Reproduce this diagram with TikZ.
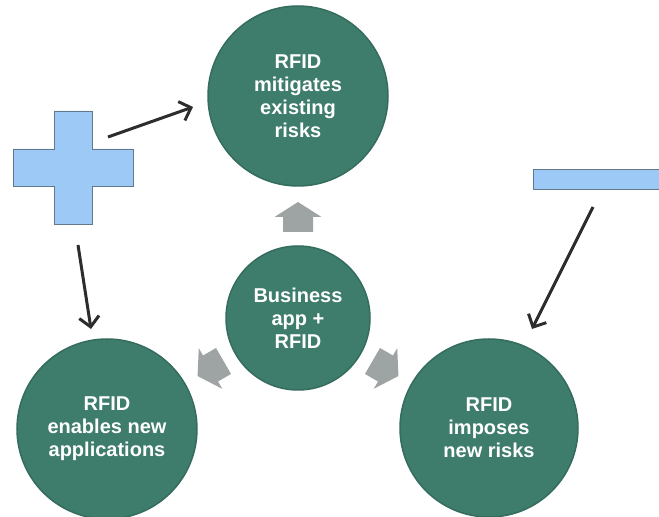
\documentclass[tikz,border=0pt]{standalone}
\usepackage{fontspec}
\setmainfont{Liberation Sans}
\usetikzlibrary{arrows.meta}
\definecolor{teal1}{RGB}{62,124,108}
\definecolor{teal2}{RGB}{52,108,94}
\definecolor{greyarrow}{RGB}{158,163,163}
\definecolor{lightblue}{RGB}{156,201,245}
\definecolor{blueedge}{RGB}{100,120,140}
\definecolor{darkline}{RGB}{45,45,45}
\begin{document}
\begin{tikzpicture}[x=1pt,y=1pt,
  bubble/.style={circle, fill=teal1, draw=teal2, line width=1.5pt, inner sep=0pt,
    text=white, font=\bfseries\fontsize{20}{23}\selectfont, align=center},
  blockarrow/.style={fill=greyarrow, draw=none},
  signshape/.style={fill=lightblue, draw=blueedge, line width=0.8pt},
  pointer/.style={draw=darkline, line width=3pt,
    -{Straight Barb[length=10pt,width=20pt,line width=3pt]}}]
\useasboundingbox (0,0) rectangle (659,517);
% circles
\node[bubble, minimum size=180pt] (top) at (298,421) {RFID\\mitigates\\existing\\risks};
\node[bubble, minimum size=144pt] (mid) at (298,199) {Business\\app +\\RFID};
\node[bubble, minimum size=180pt] (bl) at (107,88) {RFID\\enables new\\applications};
\node[bubble, minimum size=178pt] (br) at (489,89) {RFID\\imposes\\new risks};
% grey block arrows around the centre
\foreach \a in {90,210,330}{
  \fill[blockarrow, shift={(mid.center)}, rotate=\a]
    (86,-15) -- (101,-15) -- (101,-23.5) -- (116,0) -- (101,23.5) -- (101,15) -- (86,15) -- cycle;
}
% plus sign
\draw[signshape] (54,406) -- (92,406) -- (92,368) -- (133,368) -- (133,331) -- (92,331)
  -- (92,293) -- (54,293) -- (54,331) -- (13,331) -- (13,368) -- (54,368) -- cycle;
% minus sign
\draw[signshape] (533,348) rectangle (662,328);
% pointer arrows
\coordinate (plusA) at (108,380);
\coordinate (topIn) at (193,410);
\coordinate (plusB) at (78,272);
\coordinate (blIn) at (91,188);
\coordinate (minusA) at (593,310);
\coordinate (brIn) at (532,188);
\draw[pointer] (plusA) -- (topIn);
\draw[pointer] (plusB) -- (blIn);
\draw[pointer] (minusA) -- (brIn);
\end{tikzpicture}
\end{document}
